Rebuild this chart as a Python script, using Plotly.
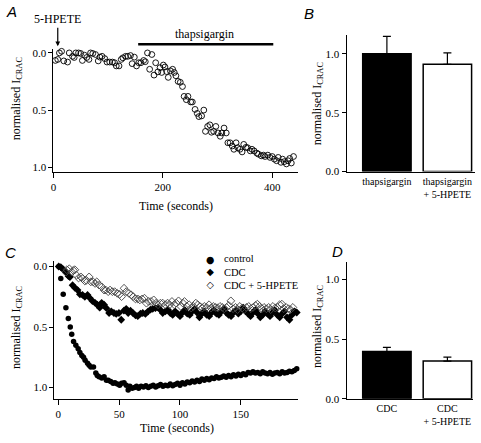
import plotly.graph_objects as go

W, H = 481, 443
SERIF = "Liberation Serif, Times New Roman, serif"
SANS = "Liberation Sans, Arial, sans-serif"

# ---------------- Panel A data ----------------
a_time = [3.6, 8, 11, 15, 19, 22, 26, 29, 35, 38, 41, 46, 50, 53, 57, 61, 65, 68, 72, 77,
          82, 85, 89, 94, 98, 103, 108, 112, 115, 120, 124, 127, 132, 136, 141, 144, 148, 152,
          156, 160, 165, 168, 172, 176, 180, 184, 187, 191, 195, 198, 201, 204, 207, 210, 214,
          218, 221, 224, 228, 232, 236, 239, 243, 246, 251, 254, 259, 263, 266, 271, 275, 278,
          282, 286, 289, 293, 297, 301, 305, 308, 312, 316, 319, 323, 327, 330, 334, 337, 341,
          345, 348, 352, 355, 360, 363, 367, 372, 375, 380, 384, 387, 392, 396, 400, 404, 408,
          411, 416, 419, 422, 426, 429, 432, 435, 439]
a_icrac = [0.066, 0.057, 0.0, -0.014, 0.07, -0.05, 0.08, 0.0, 0.03, 0.04, 0.0, 0.0, 0.005, 0.066,
           0.02, 0.04, 0.057, 0.0, 0.005, 0.014, 0.07, 0.037, 0.03, 0.05, 0.08, 0.08, 0.08, 0.086,
           0.114, 0.114, 0.057, 0.043, 0.03, 0.03, 0.023, 0.094, 0.037, 0.114, 0.086, 0.086, 0.066,
           0.077, 0.0, 0.143, 0.014, 0.194, 0.086, 0.166, 0.129, 0.171, 0.106, 0.123, 0.163, 0.214,
           0.157, 0.143, 0.171, 0.2, 0.249, 0.257, 0.294, 0.38, 0.409, 0.38, 0.429, 0.429, 0.494,
           0.529, 0.557, 0.551, 0.5, 0.686, 0.643, 0.629, 0.694, 0.686, 0.643, 0.7, 0.729, 0.7,
           0.657, 0.7, 0.786, 0.786, 0.814, 0.843, 0.786, 0.829, 0.843, 0.866, 0.80, 0.826, 0.829,
           0.857, 0.843, 0.857, 0.877, 0.886, 0.9, 0.894, 0.906, 0.894, 0.914, 0.906, 0.929, 0.943,
           0.914, 0.957, 0.929, 0.951, 0.971, 0.943, 0.923, 0.963, 0.906]
hpete_time = 8            # time of 5-HPETE application (s)
thaps_start, thaps_end = 155, 402   # thapsigargin application (s)

# ---------------- Panel B data ----------------
b_labels = ["thapsigargin", "thapsigargin<br>+ 5-HPETE"]
b_values = [1.0, 0.911]
b_errors = [0.147, 0.097]

# ---------------- Panel C data ----------------
ctrl_time = [0.5, 2.0, 4.0, 6.2, 8.2, 9.8, 11.0, 12.5, 14.4, 16.3, 17.7, 19.3, 20.7, 22.0, 24.0,
             25.3, 26.7, 28.9, 30.8, 32.0, 33.5, 35.7, 37.6, 39.5, 41.0, 43.0, 45.0, 46.5, 48.5,
             50.4, 52.0, 54.0, 55.8, 57.4, 58.8, 60.7, 62.6, 64.3, 66.0, 68.0, 70, 72, 74, 76, 78,
             80, 82, 84, 86, 88, 90, 92, 94, 96, 98, 100, 102, 104, 106, 108, 110, 112, 114, 116,
             118, 120, 122, 124, 126, 128, 130, 132, 134, 136, 138, 140, 142, 144, 146, 148, 150,
             152, 154, 156, 158, 160, 162, 164, 166, 168, 170, 172, 174, 176, 178, 180, 182, 184,
             186, 188, 190, 192, 194, 196]
ctrl_icrac = [0.0, 0.10, 0.23, 0.34, 0.43, 0.50, 0.56, 0.62, 0.65, 0.68, 0.71, 0.735, 0.75, 0.775,
              0.80, 0.815, 0.83, 0.83, 0.88, 0.90, 0.91, 0.92, 0.91, 0.94, 0.94, 0.95, 0.965, 0.96,
              0.97, 0.98, 0.965, 0.96, 0.98, 1.02, 0.99, 1.005, 1.0, 0.99, 1.005, 0.99, 0.995,
              0.985, 1.0, 0.99, 0.98, 0.995, 0.985, 0.975, 0.99, 0.98, 0.985, 0.97, 0.985, 0.975,
              0.965, 0.98, 0.96, 0.97, 0.955, 0.96, 0.945, 0.955, 0.94, 0.95, 0.93, 0.94, 0.925,
              0.935, 0.92, 0.925, 0.91, 0.92, 0.915, 0.905, 0.915, 0.9, 0.91, 0.895, 0.905, 0.89,
              0.9, 0.885, 0.895, 0.875, 0.88, 0.87, 0.88, 0.875, 0.885, 0.87, 0.88, 0.885, 0.875,
              0.89, 0.88, 0.875, 0.885, 0.87, 0.88, 0.875, 0.865, 0.87, 0.86, 0.845]

cdc_time = [0.3, 2, 4, 6.2, 8.4, 9.5, 11.7, 13.6, 15.8, 17.7, 19.9, 21.8, 24, 25.8, 28, 30.2, 32,
            34, 35.6, 37.6, 39.5, 41.7, 43.5, 45.7, 47.6, 49.8, 51.7, 53.9, 55.8, 57.4, 59.3,
            61.3, 63.4, 65.3, 67.5, 69.4, 71.6, 73.8, 75.7, 77.6, 79.8, 82, 83.8, 85.8, 88, 90.1,
            92, 94, 96, 98, 100, 102, 104, 106, 108, 110, 112, 114, 116, 118, 120, 122, 124, 126,
            128, 130, 132, 134, 136, 138, 140, 142, 144, 146, 148, 150, 152, 154, 156, 158, 160,
            162, 164, 166, 168, 170, 172, 174, 176, 178, 180, 182, 184, 186, 188, 190, 192, 194,
            196]
cdc_icrac = [0.0, 0.005, 0.025, 0.05, 0.08, 0.087, 0.155, 0.176, 0.195, 0.23, 0.235, 0.25, 0.235,
             0.26, 0.285, 0.30, 0.316, 0.34, 0.30, 0.316, 0.344, 0.384, 0.37, 0.384, 0.392, 0.384,
             0.44, 0.365, 0.35, 0.384, 0.365, 0.384, 0.403, 0.41, 0.39, 0.384, 0.392, 0.37, 0.357,
             0.35, 0.344, 0.34, 0.357, 0.384, 0.37, 0.357, 0.384, 0.40, 0.37, 0.39, 0.41, 0.38,
             0.36, 0.39, 0.40, 0.37, 0.35, 0.38, 0.42, 0.39, 0.37, 0.40, 0.41, 0.38, 0.36, 0.39,
             0.40, 0.37, 0.35, 0.38, 0.40, 0.41, 0.38, 0.36, 0.39, 0.37, 0.34, 0.37, 0.39, 0.41,
             0.38, 0.36, 0.39, 0.42, 0.40, 0.37, 0.39, 0.41, 0.38, 0.36, 0.40, 0.42, 0.39, 0.37,
             0.42, 0.44, 0.40, 0.37, 0.38]

hp_time = [6.3, 7, 9, 11, 12.3, 13.6, 15, 16.6, 18.5, 19.9, 21.8, 23, 25.3, 26.7, 28.6, 30.2,
           31.6, 33.5, 35.7, 37.6, 39, 41, 42.5, 44.4, 46.3, 48.5, 50.4, 52, 54, 55.8, 58, 59.9,
           61.5, 63.4, 65.3, 67, 68.9, 70.8, 72.4, 74.3, 76.2, 78.4, 80.3, 82, 83.9, 85.8, 87.9,
           89.8, 91.5, 93.4, 95.3, 96.9, 98.8, 100.7, 102.4, 103.7, 105.6, 107.5, 109.2, 111,
           113, 114.6, 116.5, 118.4, 120, 122, 123.9, 125.5, 127.4, 129.3, 131, 132.9, 134.8,
           136.4, 138.3, 140.2, 141.8, 143.7, 145.7, 147.3, 149.2, 151.1, 152.7, 154.6, 156.5,
           158.2, 160.1, 162, 163.6, 165.5, 167.4, 169.1, 171, 172.9, 174.5, 176.4, 178.3, 180,
           181.9, 183.8, 185.4, 187.3, 189.2, 190.8, 192.8]
hp_icrac = [0.046, 0.027, 0.019, 0.046, 0.032, 0.027, 0.073, 0.095, 0.086, 0.1, 0.12, 0.114,
            0.086, 0.127, 0.127, 0.14, 0.127, 0.154, 0.168, 0.195, 0.195, 0.208, 0.195, 0.208,
            0.208, 0.222, 0.23, 0.249, 0.18, 0.208, 0.222, 0.235, 0.249, 0.268, 0.268, 0.276,
            0.268, 0.262, 0.303, 0.289, 0.289, 0.276, 0.303, 0.316, 0.303, 0.303, 0.316, 0.303,
            0.316, 0.289, 0.316, 0.303, 0.284, 0.33, 0.303, 0.289, 0.33, 0.316, 0.343, 0.33,
            0.303, 0.316, 0.33, 0.343, 0.33, 0.338, 0.316, 0.343, 0.33, 0.338, 0.343, 0.33, 0.338,
            0.349, 0.338, 0.322, 0.284, 0.349, 0.338, 0.357, 0.33, 0.343, 0.357, 0.338, 0.33,
            0.349, 0.338, 0.322, 0.311, 0.33, 0.349, 0.338, 0.349, 0.338, 0.357, 0.33, 0.343,
            0.338, 0.316, 0.311, 0.349, 0.338, 0.349, 0.357, 0.338]
legend_labels = ["control", "CDC", "CDC + 5-HPETE"]
legend_glyphs = ["\u25CF", "\u25C6", "\u25C7"]

# ---------------- Panel D data ----------------
d_labels = ["CDC", "CDC<br>+ 5-HPETE"]
d_values = [0.396, 0.316]
d_errors = [0.035, 0.033]

bar_fill = ["black", "white"]


def px_x(p):
    return p / W


def px_y(p):
    return 1 - p / H


# panel A geometry (pixels) and ranges
A_X_DOM = (50.7, 297.3)
A_X_RANGE = (0, 448)
A_Y_DOM = (48, 173.3)          # top, bottom pixel
A_Y_RANGE = (1.043, -0.033)    # bottom value, top value (reversed)


def a_paper_y(v):
    top_px, bot_px = A_Y_DOM
    bot_v, top_v = A_Y_RANGE
    p = bot_px + (v - bot_v) / (top_v - bot_v) * (top_px - bot_px)
    return px_y(p)


def a_paper_x(t):
    l, r = A_X_DOM
    p = l + (t - A_X_RANGE[0]) / (A_X_RANGE[1] - A_X_RANGE[0]) * (r - l)
    return px_x(p)


fig = go.Figure()

# Panel A
fig.add_trace(go.Scatter(x=a_time, y=a_icrac, mode="markers", xaxis="x", yaxis="y",
                         marker=dict(symbol="circle-open", size=5.8, color="black",
                                     line=dict(width=0.9)),
                         cliponaxis=False, showlegend=False))

# Panel B
fig.add_trace(go.Bar(x=[0, 1], y=b_values, xaxis="x2", yaxis="y2", width=0.8,
                     marker=dict(color=bar_fill, line=dict(color="black", width=1.5)),
                     error_y=dict(type="data", array=b_errors, arrayminus=[0, 0],
                                  symmetric=False, color="black", thickness=1.2, width=4),
                     showlegend=False))

# Panel C
fig.add_trace(go.Scatter(x=ctrl_time, y=ctrl_icrac, mode="markers", name=legend_labels[0],
                         xaxis="x3", yaxis="y3",
                         marker=dict(symbol="circle", size=5.5, color="black"),
                         cliponaxis=False, showlegend=False))
fig.add_trace(go.Scatter(x=cdc_time, y=cdc_icrac, mode="markers", name=legend_labels[1],
                         xaxis="x3", yaxis="y3",
                         marker=dict(symbol="diamond", size=6, color="black"),
                         cliponaxis=False, showlegend=False))
fig.add_trace(go.Scatter(x=hp_time, y=hp_icrac, mode="markers", name=legend_labels[2],
                         xaxis="x3", yaxis="y3",
                         marker=dict(symbol="diamond-open", size=6, color="#444444",
                                     line=dict(width=0.9)),
                         cliponaxis=False, showlegend=False))

# Panel D
fig.add_trace(go.Bar(x=[0, 1], y=d_values, xaxis="x4", yaxis="y4", width=0.8,
                     marker=dict(color=bar_fill, line=dict(color="black", width=1.5)),
                     error_y=dict(type="data", array=d_errors, arrayminus=[0, 0],
                                  symmetric=False, color="black", thickness=1.2, width=4),
                     showlegend=False))

tickfont = dict(family=SERIF, size=11, color="black")


def axis_style(ticklen=4):
    return dict(showline=True, linecolor="black", linewidth=1, showgrid=False, zeroline=False,
                ticks="outside", ticklen=ticklen, tickcolor="black", tickwidth=1,
                tickfont=tickfont, mirror=False)


bar_x_style = dict(tickfont=dict(family=SERIF, size=10, color="black"),
                   showline=True, linecolor="black", linewidth=1, showgrid=False,
                   zeroline=False, ticks="")

fig.update_layout(
    width=W, height=H, margin=dict(l=0, r=0, t=0, b=0, pad=0),
    paper_bgcolor="white", plot_bgcolor="white",
    font=dict(family=SERIF, size=12, color="black"),
    showlegend=False,
    xaxis=dict(domain=[px_x(A_X_DOM[0]), px_x(A_X_DOM[1])], range=list(A_X_RANGE), anchor="y",
               tickvals=[0, 200, 400], **axis_style(5)),
    yaxis=dict(domain=[px_y(A_Y_DOM[1]), px_y(A_Y_DOM[0])], range=list(A_Y_RANGE), anchor="x",
               tickvals=[0, 0.5, 1.0], tickformat=".1f", **axis_style()),
    xaxis2=dict(domain=[px_x(345.7), px_x(475)], range=[-0.667, 1.457], anchor="y2",
                tickvals=[0, 1], ticktext=b_labels, **bar_x_style),
    yaxis2=dict(domain=[px_y(172.7), px_y(33.3)], range=[0, 1.162], anchor="x2",
                tickvals=[0, 0.5, 1.0], tickformat=".1f", **axis_style()),
    xaxis3=dict(domain=[px_x(51.7), px_x(297.3)], range=[-3.27, 197.4], anchor="y3",
                tickvals=[0, 50, 100, 150], **axis_style(5)),
    yaxis3=dict(domain=[px_y(404), px_y(263.3)], range=[1.092, -0.049], anchor="x3",
                tickvals=[0, 0.5, 1.0], tickformat=".1f", **axis_style()),
    xaxis4=dict(domain=[px_x(345.7), px_x(473)], range=[-0.667, 1.424], anchor="y4",
                tickvals=[0, 1], ticktext=d_labels, **bar_x_style),
    yaxis4=dict(domain=[px_y(404), px_y(265)], range=[0, 1.146], anchor="x4",
                tickvals=[0, 0.5, 1.0], tickformat=".1f", **axis_style()),
)

# thapsigargin application bar
fig.add_shape(type="line", xref="paper", yref="paper",
              x0=a_paper_x(thaps_start), x1=a_paper_x(thaps_end),
              y0=a_paper_y(-0.0755), y1=a_paper_y(-0.0755),
              line=dict(color="black", width=2.6))

ytitle = "normalised I<sub>CRAC</sub>"
annots = [
    dict(text="<i>A</i>", x=px_x(8.3), y=px_y(10), font=dict(family=SANS, size=15)),
    dict(text="<i>B</i>", x=px_x(307.5), y=px_y(12), font=dict(family=SANS, size=15)),
    dict(text="<i>C</i>", x=px_x(7.5), y=px_y(255), font=dict(family=SANS, size=15)),
    dict(text="<i>D</i>", x=px_x(337), y=px_y(254), font=dict(family=SANS, size=15)),
    dict(text=ytitle, x=px_x(14), y=px_y(98), textangle=-90),
    dict(text=ytitle, x=px_x(317), y=px_y(103), textangle=-90),
    dict(text=ytitle, x=px_x(14), y=px_y(331), textangle=-90),
    dict(text=ytitle, x=px_x(317), y=px_y(330), textangle=-90),
    dict(text="Time (seconds)", x=px_x(174), y=px_y(208)),
    dict(text="Time (seconds)", x=px_x(175), y=px_y(434)),
    dict(text="thapsigargin", x=px_x(203), y=px_y(33)),
    # legend of panel C: glyph column and label column
    dict(text="<br>".join(legend_glyphs), x=px_x(208.3), y=px_y(275),
         font=dict(family="DejaVu Sans", size=9.6, color="black")),
    dict(text="<br>".join(legend_labels), x=px_x(220.5), y=px_y(275), xanchor="left",
         align="left", font=dict(family=SERIF, size=10.5, color="black")),
]

for a in annots:
    a.setdefault("xanchor", "center")
    a.update(xref="paper", yref="paper", showarrow=False, yanchor="middle")
    fig.add_annotation(**a)

# 5-HPETE arrow
fig.add_annotation(text="5-HPETE", xref="paper", yref="paper",
                   x=a_paper_x(hpete_time), y=a_paper_y(-0.058),
                   showarrow=True, ax=0, ay=-27, arrowhead=2, arrowsize=0.8, arrowwidth=1.2,
                   arrowcolor="black", standoff=0, font=dict(family=SERIF, size=12))

fig.write_html("out.html", config={"displayModeBar": False},
               post_script="document.body.style.margin='0';document.body.style.padding='0';")
